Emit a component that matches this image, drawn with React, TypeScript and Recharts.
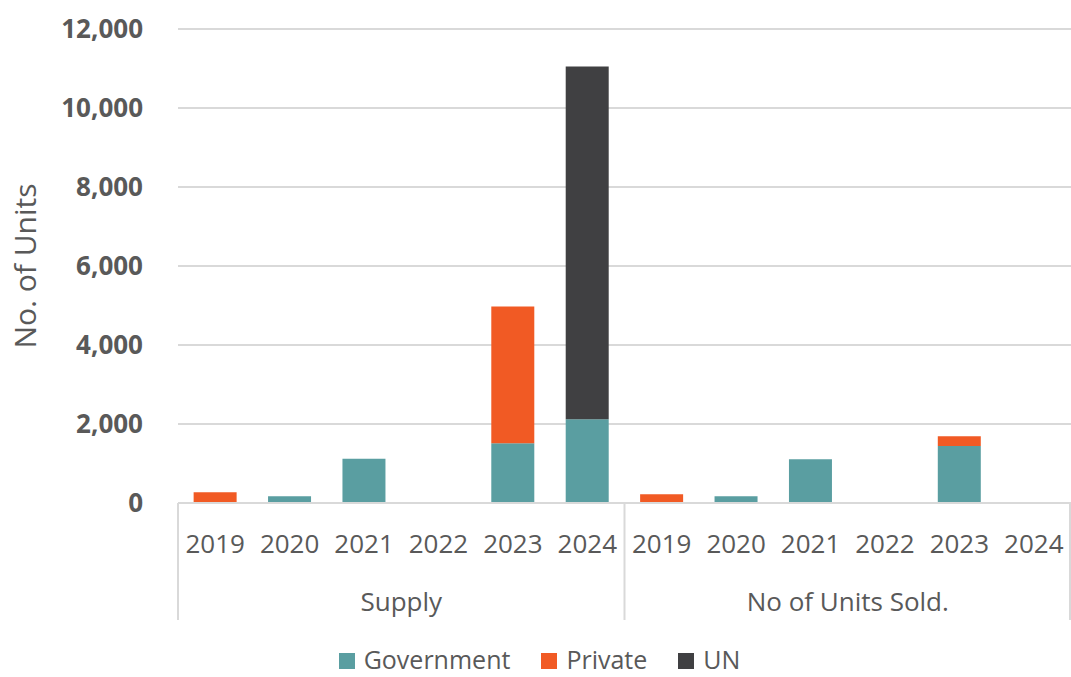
import { BarChart, Bar, XAxis, YAxis, CartesianGrid, Legend, Label } from "recharts";

const groups = ["Supply", "No of Units Sold."];
const years = ["2019", "2020", "2021", "2022", "2023", "2024"];

// values per group, one entry per year
const supplyGovernment = [0, 170, 1120, 0, 1515, 2120];
const supplyPrivate = [270, 0, 0, 0, 3460, 0];
const supplyUN = [0, 0, 0, 0, 0, 8930];

const soldGovernment = [0, 170, 1110, 0, 1440, 0];
const soldPrivate = [220, 0, 0, 0, 250, 0];
const soldUN = [0, 0, 0, 0, 0, 0];

const yTicks = [0, 2000, 4000, 6000, 8000, 10000, 12000];

const series = [
  { key: "government", name: "Government", color: "#5A9EA1" },
  { key: "private", name: "Private", color: "#F15A24" },
  { key: "un", name: "UN", color: "#404042" },
];

const values = [
  [supplyGovernment, supplyPrivate, supplyUN],
  [soldGovernment, soldPrivate, soldUN],
];

const data = groups.flatMap((group, g) =>
  years.map((year, i) => ({
    key: `${group}-${year}`,
    group,
    year,
    government: values[g][0][i],
    private: values[g][1][i],
    un: values[g][2][i],
  }))
);

const W = 1071;
const H = 677;
const LEFT = 178;
const XAXIS_H = 30;
const LEGEND_H = 24;
const TEXT = "#595959";
const LINE = "#D9D9D9";
const FONT = "'Open Sans', 'Noto Sans', sans-serif";

function CategoryTick(props: any) {
  const { x, y, index } = props;
  const step = (W - LEFT) / data.length;
  const row = data[index];
  if (!row) return null;
  const first = index % years.length === 0;
  const left = x - step / 2;
  return (
    <g>
      <text
        x={x}
        y={y + 50}
        textAnchor="middle"
        fill={TEXT}
        fontSize={26}
        fontFamily={FONT}
      >
        {row.year}
      </text>
      {first && (
        <>
          <line x1={left} x2={left} y1={y} y2={y + 117} stroke={LINE} strokeWidth={2} />
          <text
            x={left + (step * years.length) / 2}
            y={y + 108}
            textAnchor="middle"
            fill={TEXT}
            fontSize={26}
            fontFamily={FONT}
          >
            {row.group}
          </text>
        </>
      )}
      {index === data.length - 1 && (
        <line x1={x + step / 2 - 1} x2={x + step / 2 - 1} y1={y} y2={y + 117} stroke={LINE} strokeWidth={2} />
      )}
    </g>
  );
}

function YTitle() {
  return (
    <text
      x={24}
      y={266}
      transform="rotate(-90 24 266)"
      textAnchor="middle"
      dominantBaseline="central"
      fill={TEXT}
      fontSize={30}
      fontFamily={FONT}
    >
      No. of Units
    </text>
  );
}

function LegendBox() {
  return (
    <div
      style={{
        height: LEGEND_H,
        lineHeight: `${LEGEND_H}px`,
        display: "flex",
        justifyContent: "center",
        alignItems: "center",
        gap: 31,
        paddingLeft: 8,
        fontFamily: FONT,
        fontSize: 25,
        color: TEXT,
      }}
    >
      {series.map((s) => (
        <div key={s.key} style={{ display: "flex", alignItems: "center", gap: 9 }}>
          <span style={{ width: 16, height: 16, background: s.color, display: "inline-block", marginTop: 4 }} />
          <span>{s.name}</span>
        </div>
      ))}
    </div>
  );
}

export default function App() {
  return (
    <div style={{ position: "absolute", left: 0, top: 0, background: "#fff" }}>
      <BarChart
        width={W}
        height={H}
        data={data}
        margin={{ top: 29, right: 0, bottom: 174 - LEGEND_H - XAXIS_H, left: 0 }}
        barCategoryGap="21%"
      >
        <CartesianGrid vertical={false} stroke={LINE} strokeWidth={2} />
        <XAxis
          dataKey="key"
          height={XAXIS_H}
          interval={0}
          tickLine={false}
          axisLine={{ stroke: LINE, strokeWidth: 2 }}
          tick={<CategoryTick />}
          tickSize={0}
          tickMargin={0}
        />
        <YAxis
          width={LEFT}
          domain={[0, 12000]}
          ticks={yTicks}
          axisLine={false}
          tickLine={false}
          tickSize={0}
          tickMargin={35}
          tickFormatter={(v: number) => v.toLocaleString("en-US")}
          tick={{ fill: TEXT, fontSize: 26, fontWeight: 700, fontFamily: FONT }}
        >
          <Label content={<YTitle />} />
        </YAxis>
        <Legend
          verticalAlign="bottom"
          height={LEGEND_H}
          content={<LegendBox />}
          wrapperStyle={{ top: 647, left: 0, width: W, height: LEGEND_H }}
        />
        {series.map((s) => (
          <Bar
            key={s.key}
            dataKey={s.key}
            name={s.name}
            stackId="a"
            fill={s.color}
            isAnimationActive={false}
          />
        ))}
      </BarChart>
    </div>
  );
}
